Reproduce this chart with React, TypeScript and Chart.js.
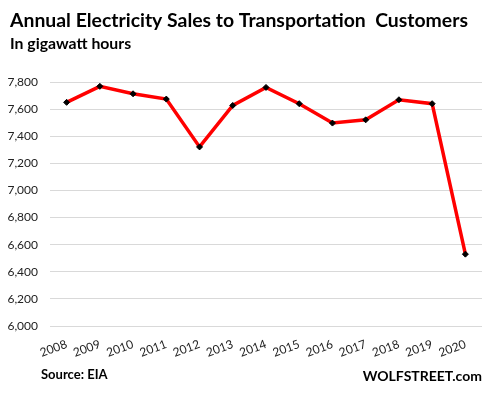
import React, { useEffect, useRef } from "react";
import { Chart, registerables } from "chart.js";

Chart.register(...registerables);

const years = ["2008", "2009", "2010", "2011", "2012", "2013", "2014", "2015", "2016", "2017", "2018", "2019", "2020"];
const sales = [7650, 7768, 7713, 7674, 7321, 7627, 7760, 7640, 7497, 7521, 7669, 7640, 6530];
const yMin = 6000;
const yMax = 7800;
const yStep = 200;

const titleText = "Annual Electricity Sales to Transportation  Customers";
const subtitleText = "In gigawatt hours";
const sourceText = "Source: EIA";
const brandText = "WOLFSTREET.com";

const FONT = "Lato, 'Noto Sans', sans-serif";

const textPlugin = {
  id: "textPlugin",
  afterDraw(chart: any) {
    const ctx = chart.ctx;
    ctx.save();
    ctx.fillStyle = "#000";
    ctx.textBaseline = "alphabetic";
    ctx.textAlign = "left";
    ctx.font = `bold 19.4px ${FONT}`;
    ctx.fillText(titleText, 10, 27);
    ctx.font = `bold 15.8px ${FONT}`;
    ctx.fillText(subtitleText, 10, 49);
    ctx.font = `bold 13px ${FONT}`;
    ctx.fillText(sourceText, 41, 379);
    ctx.textAlign = "right";
    ctx.font = `bold 14px ${FONT}`;
    ctx.fillText(brandText, 482, 381);
    ctx.restore();
  },
};

export default function App() {
  const ref = useRef<HTMLCanvasElement | null>(null);
  useEffect(() => {
    if (!ref.current) return;
    const chart = new Chart(ref.current, {
      type: "line",
      data: {
        labels: years,
        datasets: [
          {
            data: sales,
            borderColor: "#ff0000",
            borderWidth: 3.5,
            tension: 0,
            pointStyle: "rectRot",
            pointRadius: 3,
            pointBackgroundColor: "#000",
            pointBorderColor: "#000",
            pointBorderWidth: 1,
          },
        ],
      },
      options: {
        responsive: false,
        animation: false,
        devicePixelRatio: 1,
        layout: { padding: { top: 82, left: 0, right: 8, bottom: 0 } },
        plugins: { legend: { display: false }, tooltip: { enabled: false }, title: { display: false } },
        scales: {
          x: {
            offset: true,
            grid: { display: false, drawTicks: false },
            border: { display: false },
            ticks: {
              minRotation: 20,
              maxRotation: 20,
              padding: 11,
              color: "#222",
              font: { family: FONT, size: 12 },
            },
            afterFit: (s: any) => {
              s.height = 69;
            },
          },
          y: {
            min: yMin,
            max: yMax,
            grid: { color: "#d9d9d9", lineWidth: 1, drawTicks: false },
            border: { display: false },
            ticks: {
              stepSize: yStep,
              padding: 12,
              color: "#222",
              font: { family: FONT, size: 12 },
              callback: (v: any) => Number(v).toLocaleString("en-US"),
            },
            afterFit: (s: any) => {
              s.width = 50;
            },
          },
        },
      },
      plugins: [textPlugin],
    });
    return () => chart.destroy();
  }, []);
  return (
    <div style={{ position: "absolute", left: 0, top: 0, width: 490, height: 395, background: "#fff" }}>
      <canvas ref={ref} width={490} height={395} />
    </div>
  );
}
